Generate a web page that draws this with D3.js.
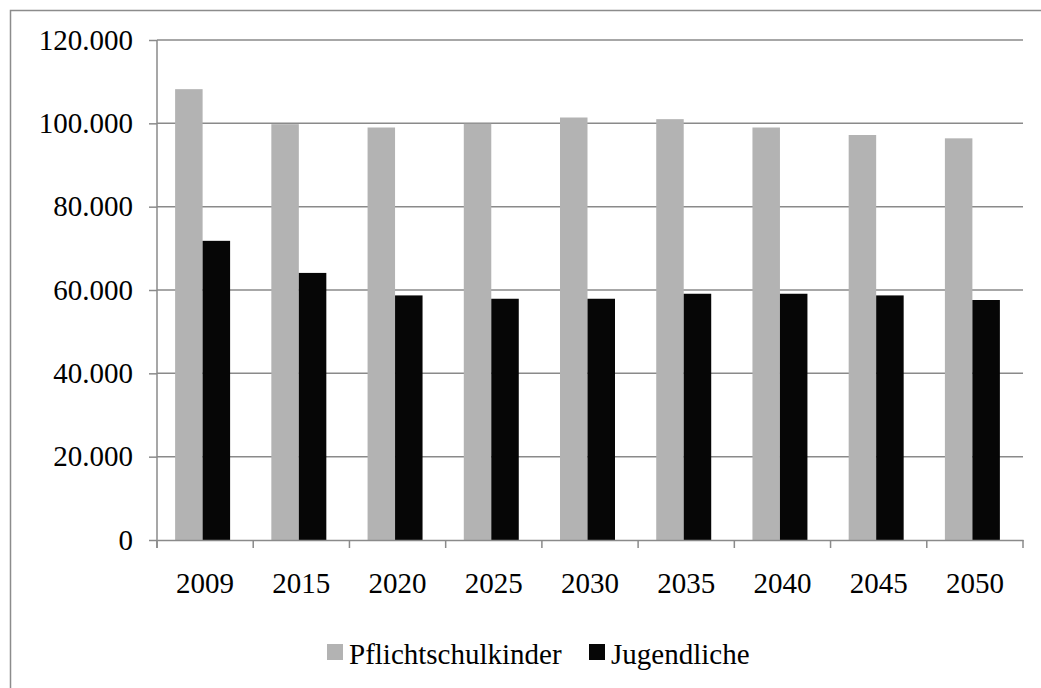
<!DOCTYPE html>
<html>
<head>
<meta charset="utf-8">
<script src="https://cdn.jsdelivr.net/npm/d3@7"></script>
<style>
  body { margin: 0; background: #fff; }
</style>
</head>
<body>
<div id="chart"></div>
<script>
var years = ["2009", "2015", "2020", "2025", "2030", "2035", "2040", "2045", "2050"];
var pflichtschulkinder = [108200, 99800, 99000, 99900, 101400, 101000, 99000, 97200, 96400];
var jugendliche = [71800, 64100, 58700, 57900, 57900, 59100, 59100, 58700, 57600];
var seriesNames = ["Pflichtschulkinder", "Jugendliche"];
var seriesColors = ["#b3b3b3", "#060606"];
var yTicks = [0, 20000, 40000, 60000, 80000, 100000, 120000];

var serif = "'Liberation Serif', 'DejaVu Serif', serif";
var width = 1041, height = 688;
var margin = {top: 40, right: 18, bottom: 148, left: 157};
var plotW = width - margin.left - margin.right;
var plotH = height - margin.top - margin.bottom;

var svg = d3.select("#chart").append("svg")
	.attr("width", width)
	.attr("height", height);

// chart frame
svg.append("rect")
	.attr("x", 10.5).attr("y", 10.5)
	.attr("width", width + 20).attr("height", height + 20)
	.attr("fill", "none")
	.attr("stroke", "#8c8c8c")
	.attr("stroke-width", 1.5);

var g = svg.append("g")
	.attr("transform", "translate(" + margin.left + "," + margin.top + ")");

var x = d3.scaleBand()
	.domain(years)
	.range([0, plotW]);

var y = d3.scaleLinear()
	.domain([0, 120000])
	.range([plotH, 0]);

// group width like excel's 75% gap
var groupW = x.bandwidth() / 1.75;
var x1 = d3.scaleBand()
	.domain(seriesNames)
	.range([0, groupW]);

var fmt = function(d) { return d3.format(",")(d).replace(/,/g, "."); };

// gridlines
g.selectAll(".grid")
	.data(yTicks.slice(1))
	.enter().append("line")
	.attr("x1", 0).attr("x2", plotW)
	.attr("y1", function(d) { return y(d); })
	.attr("y2", function(d) { return y(d); })
	.attr("stroke", "#8a8a8a")
	.attr("stroke-width", 1.5);

// bars
var data = years.map(function(yr, i) {
	return {year: yr, values: [pflichtschulkinder[i], jugendliche[i]]};
});

var groups = g.selectAll(".grp")
	.data(data)
	.enter().append("g")
	.attr("transform", function(d) {
		return "translate(" + (x(d.year) + (x.bandwidth() - groupW) / 2 - 2.5) + ",0)";
	});

groups.selectAll("rect")
	.data(function(d) { return d.values.map(function(v, i) { return {name: seriesNames[i], v: v, i: i}; }); })
	.enter().append("rect")
	.attr("x", function(d) { return x1(d.name); })
	.attr("y", function(d) { return y(d.v); })
	.attr("width", x1.bandwidth())
	.attr("height", function(d) { return plotH - y(d.v); })
	.attr("fill", function(d) { return seriesColors[d.i]; });

// axes
var yAxis = g.append("g")
	.call(d3.axisLeft(y).tickValues(yTicks).tickFormat(fmt).tickSize(8).tickPadding(16));

var xAxis = g.append("g")
	.attr("transform", "translate(0," + plotH + ")")
	.call(d3.axisBottom(x).tickSize(0).tickPadding(32));

[yAxis, xAxis].forEach(function(a) {
	a.attr("font-family", serif).attr("font-size", 29);
	a.select(".domain").attr("stroke", "#8a8a8a").attr("stroke-width", 1.5);
	a.selectAll(".tick line").attr("stroke", "#8a8a8a").attr("stroke-width", 1.5);
	a.selectAll("text")
		.style("font-family", serif)
		.style("font-size", "29px")
		.attr("fill", "#000");
});
yAxis.select(".domain").attr("d", "M0,0V" + (plotH + 8));
xAxis.selectAll(".tick text").attr("dy", "0.71em");

// x tick marks at band edges
g.selectAll(".xtick")
	.data(d3.range(years.length + 1))
	.enter().append("line")
	.attr("x1", function(i) { return i * x.step(); })
	.attr("x2", function(i) { return i * x.step(); })
	.attr("y1", plotH).attr("y2", plotH + 8)
	.attr("stroke", "#8a8a8a")
	.attr("stroke-width", 1.5);

// legend
var legendX = [327, 589];
var legend = svg.selectAll(".legend")
	.data(seriesNames)
	.enter().append("g")
	.attr("transform", function(d, i) { return "translate(" + legendX[i] + ",644)"; });

legend.append("rect")
	.attr("width", 16).attr("height", 16)
	.attr("fill", function(d, i) { return seriesColors[i]; });

legend.append("text")
	.attr("x", 22).attr("y", 20)
	.style("font-family", serif)
	.style("font-size", "29px")
	.attr("fill", "#000")
	.text(function(d) { return d; });
</script>
</body>
</html>
